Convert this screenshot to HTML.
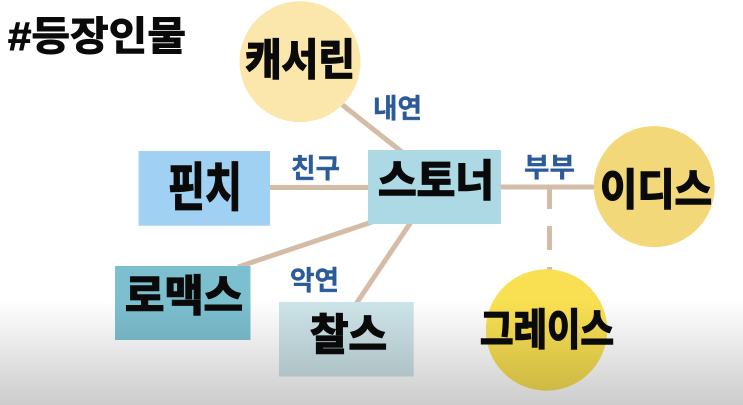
<!DOCTYPE html>
<html lang="ko">
<head>
<meta charset="utf-8">
<style>
html,body{margin:0;padding:0;background:#fff;width:743px;height:405px;overflow:hidden}
svg{display:block}
text{font-family:"Liberation Sans","Noto Sans CJK KR","NanumGothic",sans-serif;font-weight:700}
.n{fill:#0a0a0a;stroke:#0a0a0a;stroke-width:1.6px;font-size:43px;paint-order:stroke}
.l{fill:#2b5b9b;stroke:#2b5b9b;stroke-width:.4px;font-size:27px}
</style>
</head>
<body>
<svg width="743" height="405" viewBox="0 0 743 405" xmlns="http://www.w3.org/2000/svg">
<defs>
<linearGradient id="g" x1="0" y1="0" x2="0" y2="1">
<stop offset="0" stop-color="#000" stop-opacity="0"/>
<stop offset="1" stop-color="#000" stop-opacity=".2"/>
</linearGradient>
</defs>
<rect width="743" height="405" fill="#fff"/>
<g stroke="#d5bca6" stroke-width="5" fill="none">
<line x1="340" y1="103" x2="402" y2="152"/>
<line x1="268" y1="187.5" x2="370" y2="187.5"/>
<line x1="499" y1="187" x2="596" y2="187"/>
<line x1="238" y1="267" x2="372" y2="222"/>
<line x1="356" y1="304" x2="411" y2="222"/>
<line x1="549.5" y1="188" x2="549.5" y2="209"/>
<line x1="549.5" y1="226" x2="549.5" y2="250"/>
<line x1="549.5" y1="267" x2="549.5" y2="271"/>
</g>
<circle cx="300" cy="61.7" r="60.5" fill="#fbe7ac"/>
<circle cx="654.2" cy="186.6" r="60.5" fill="#f2d878"/>
<circle cx="546.5" cy="330" r="60.7" fill="#f9e052"/>
<rect x="138.5" y="151" width="131.5" height="74.7" fill="#a0d1f2"/>
<rect x="368" y="150" width="133" height="74" fill="#acd9e4"/>
<rect x="115" y="266" width="135.5" height="74" fill="#7cc0d0"/>
<rect x="279" y="302" width="134.7" height="74.5" fill="#cde4e8"/>
<rect y="300" width="743" height="105" fill="url(#g)"/>
<text x="8" y="50" font-size="40" fill="#0a0a0a" stroke="#0a0a0a" stroke-width="1" textLength="178" lengthAdjust="spacingAndGlyphs">#등장인물</text>
<text class="n" x="245" y="75" textLength="110" lengthAdjust="spacingAndGlyphs">캐서린</text>
<text class="n" x="168" y="206" style="font-size:52px" textLength="74" lengthAdjust="spacingAndGlyphs">핀치</text>
<text class="n" x="378" y="196" textLength="116" lengthAdjust="spacingAndGlyphs">스토너</text>
<text class="n" x="600" y="205" textLength="112" lengthAdjust="spacingAndGlyphs">이디스</text>
<text class="n" x="125" y="311" textLength="118" lengthAdjust="spacingAndGlyphs">로맥스</text>
<text class="n" x="310" y="350" textLength="77" lengthAdjust="spacingAndGlyphs">찰스</text>
<text class="n" x="480" y="345" textLength="134" lengthAdjust="spacingAndGlyphs">그레이스</text>
<text class="l" x="373" y="118" textLength="49" lengthAdjust="spacingAndGlyphs">내연</text>
<text class="l" x="291" y="178" textLength="49" lengthAdjust="spacingAndGlyphs">친구</text>
<text class="l" x="524" y="177" textLength="51" lengthAdjust="spacingAndGlyphs">부부</text>
<text class="l" x="290" y="290" textLength="49" lengthAdjust="spacingAndGlyphs">악연</text>
</svg>
</body>
</html>
